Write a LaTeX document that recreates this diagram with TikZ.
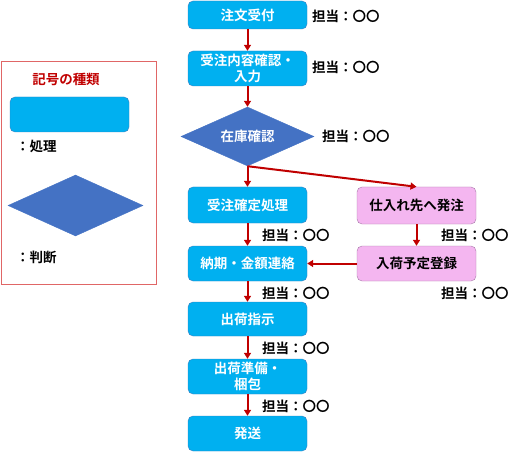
\documentclass[tikz,border=0pt]{standalone}
\usepackage{fontspec}
\setmainfont{Noto Sans CJK JP}[BoldFont={Noto Sans CJK JP Bold}]
\usetikzlibrary{shapes.geometric,arrows.meta}

\definecolor{procblue}{HTML}{00B0F0}
\definecolor{procline}{HTML}{3B7FC0}
\definecolor{judgeblue}{HTML}{4472C4}
\definecolor{orderpink}{HTML}{F4B6F0}
\definecolor{pinkline}{HTML}{A678A8}
\definecolor{flowred}{HTML}{C00000}
\definecolor{legendred}{HTML}{E06666}

\tikzset{
    proc/.style={draw=procline, fill=procblue, rounded corners=5pt, minimum width=119pt, minimum height=35pt, inner sep=1pt, align=center, text=white, font=\fontsize{13.5}{16}\selectfont\bfseries},
    pinkproc/.style={proc, draw=pinkline, fill=orderpink, text=black},
    judge/.style={diamond, draw=judgeblue, fill=judgeblue, aspect=2.25, minimum width=133pt, minimum height=59pt, inner sep=0pt, text=white, font=\fontsize{13.5}{16}\selectfont\bfseries},
    staff/.style={anchor=west, inner sep=0pt, font=\fontsize{13.5}{16}\selectfont\bfseries},
    flow/.style={draw=flowred, line width=2pt, -{Triangle[width=7pt,length=6pt]}}
}

\begin{document}
\begin{tikzpicture}[x=1pt, y=-1pt]
        \useasboundingbox (0,0) rectangle (523,452);

        % Legend
        \node[draw=legendred, line width=0.8pt, minimum width=155pt, minimum height=223pt, inner sep=0pt] (legend) at (78.5,172.5) {};
        \node[text=flowred, font=\fontsize{13.5}{16}\selectfont\bfseries] (legtitle) at (66,79) {記号の種類};
        \node[proc, minimum width=119pt, minimum height=35pt] (legproc) at (69.5,114.5) {};
        \node[staff] (legproctext) at (16,146) {：処理};
        \node[judge, minimum width=135pt, minimum height=61pt] (legjudge) at (75.5,205.5) {};
        \node[staff] (legjudgetext) at (16,257) {：判断};

        % Main flow
        \node[proc, minimum height=28pt] (order) at (247.5,15) {注文受付};
        \node[proc] (input) at (247.5,68.5) {受注内容確認・\\入力};
        \node[judge] (stock) at (247.5,136.5) {在庫確認};
        \node[proc, minimum height=36pt] (confirm) at (247.5,205) {受注確定処理};
        \node[proc] (notify) at (247.5,263.5) {納期・金額連絡};
        \node[proc, minimum height=34pt] (instruct) at (247.5,319) {出荷指示};
        \node[proc] (prepare) at (247.5,376.5) {出荷準備・\\梱包};
        \node[proc] (ship) at (247.5,433.5) {発送};

        % Purchase side
        \node[pinkproc, minimum height=37pt] (purchase) at (416.5,205.5) {仕入れ先へ発注};
        \node[pinkproc] (arrival) at (416.5,263.5) {入荷予定登録};

        % Staff labels
        \node[staff] (s1) at (312,16) {担当：〇〇};
        \node[staff] (s2) at (312,67) {担当：〇〇};
        \node[staff] (s3) at (322,136) {担当：〇〇};
        \node[staff] (s4) at (262,235) {担当：〇〇};
        \node[staff] (s5) at (441,235) {担当：〇〇};
        \node[staff] (s6) at (262,293) {担当：〇〇};
        \node[staff] (s7) at (441,293) {担当：〇〇};
        \node[staff] (s8) at (262,348) {担当：〇〇};
        \node[staff] (s9) at (262,406) {担当：〇〇};

        % Arrows
        \draw[flow] (order) -- (input);
        \draw[flow] (input) -- (stock);
        \draw[flow] (stock.south) -- (confirm);
        \draw[flow] (stock.south) -- (purchase.north);
        \draw[flow] (confirm) -- (notify);
        \draw[flow] (purchase) -- (arrival);
        \draw[flow] (arrival) -- (notify);
        \draw[flow] (notify) -- (instruct);
        \draw[flow] (instruct) -- (prepare);
        \draw[flow] (prepare) -- (ship);

    \end{tikzpicture}
\end{document}
